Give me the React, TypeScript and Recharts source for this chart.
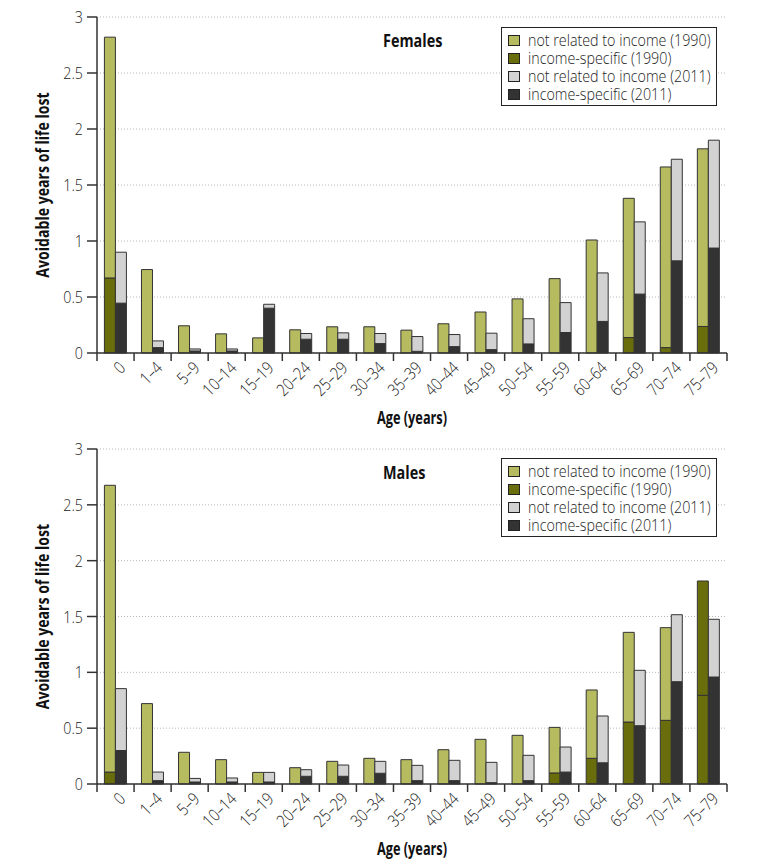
import React from 'react';
import { BarChart, Bar, XAxis, YAxis, CartesianGrid, Cell } from 'recharts';

const ages = ["0", "1–4", "5–9", "10–14", "15–19", "20–24", "25–29", "30–34", "35–39", "40–44", "45–49", "50–54", "55–59", "60–64", "65–69", "70–74", "75–79"];
const yTicks = [0, 0.5, 1, 1.5, 2, 2.5, 3];
const seriesNames = ["not related to income (1990)", "income-specific (1990)", "not related to income (2011)", "income-specific (2011)"];
const seriesColors = ["#b6bb5f", "#6a6d0c", "#d2d2d2", "#333333"];

// Females
const femIncome1990 = [0.67, 0, 0, 0, 0, 0, 0, 0, 0, 0, 0, 0, 0, 0, 0.138, 0.048, 0.237];
const femNotRelated1990 = [2.15, 0.745, 0.243, 0.171, 0.135, 0.207, 0.234, 0.234, 0.204, 0.261, 0.366, 0.483, 0.664, 1.009, 1.243, 1.613, 1.586];
const femIncome2011 = [0.445, 0.048, 0.018, 0.018, 0.4, 0.123, 0.123, 0.084, 0.015, 0.057, 0.03, 0.081, 0.183, 0.282, 0.526, 0.823, 0.937];
const femNotRelated2011 = [0.455, 0.06, 0.018, 0.018, 0.035, 0.051, 0.057, 0.09, 0.132, 0.108, 0.147, 0.225, 0.267, 0.433, 0.645, 0.907, 0.963];

// Males
const maleIncome1990 = [0.107, 0, 0, 0, 0, 0, 0, 0, 0, 0, 0, 0, 0.099, 0.23, 0.555, 0.57, 0.794];
const maleNotRelated1990 = [2.568, 0.72, 0.284, 0.218, 0.104, 0.146, 0.203, 0.23, 0.218, 0.307, 0.4, 0.436, 0.408, 0.612, 0.803, 0.83, 1.024];
const maleIncome2011 = [0.3, 0.03, 0.018, 0.018, 0.018, 0.069, 0.069, 0.096, 0.03, 0.03, 0.012, 0.03, 0.107, 0.19, 0.522, 0.916, 0.958];
const maleNotRelated2011 = [0.554, 0.077, 0.032, 0.036, 0.086, 0.059, 0.101, 0.107, 0.137, 0.182, 0.182, 0.227, 0.224, 0.419, 0.496, 0.6, 0.517];
// In the original, this 1990 upper segment is drawn in the dark olive colour
const maleRecolored1990 = ["75–79"];

const build = (inc90: number[], nr90: number[], inc11: number[], nr11: number[]) =>
  ages.map((age, i) => ({ age, inc1990: inc90[i], nr1990: nr90[i], inc2011: inc11[i], nr2011: nr11[i] }));

const femalesData = build(femIncome1990, femNotRelated1990, femIncome2011, femNotRelated2011);
const malesData = build(maleIncome1990, maleNotRelated1990, maleIncome2011, maleNotRelated2011);

const FONT = "'Open Sans', sans-serif";
const W = 771;
const H = 434;
const LEFT = 97;
const RIGHT = 44;
const AXIS = '#333';
const SX = 0.84; // horizontal squeeze for light text (condensed look)
const FS = 17;

function LegendBox({ top }: any) {
  return (
    <div style={{ position: 'absolute', left: 501, top, border: '1.5px solid #222', background: '#fff', boxSizing: 'border-box', width: 216, height: 79, fontFamily: FONT, fontSize: FS, color: '#222', overflow: 'hidden' }}>
      {seriesNames.map((n, i) => (
        <div key={n} style={{ position: 'absolute', left: 6, top: 3 + i * 18, height: 18, lineHeight: '18px', display: 'flex', alignItems: 'center', whiteSpace: 'nowrap' }}>
          <span style={{ flexShrink: 0, display: 'inline-block', width: 10, height: 9, background: seriesColors[i], border: '1px solid #222', marginRight: 8 }} />
          <span style={{ display: 'inline-block', transform: `scaleX(${SX})`, transformOrigin: 'left center', fontWeight: 300 }}>{n}</span>
        </div>
      ))}
    </div>
  );
}

function Panel({ title, data, marginTop, axisHeight, legendTop, titleTop, recolor }: any) {
  const half = (W - LEFT - RIGHT) / ages.length / 2;
  const renderTick = (props: any) => {
    const { x, y, payload, index } = props;
    const tx = x + 11;
    const ty = y + 16;
    return (
      <g>
        <line x1={x - half} y1={y} x2={x - half} y2={y + 8} stroke={AXIS} strokeWidth={1.5} />
        {index === ages.length - 1 && <line x1={x + half} y1={y} x2={x + half} y2={y + 8} stroke={AXIS} strokeWidth={1.5} />}
        <g transform={`translate(${tx}, ${ty}) rotate(-45) scale(${SX}, 1)`}>
          <text x={0} y={0} textAnchor="end" fontFamily={FONT} fontWeight={300} fontSize={FS} fill="#222">
            {payload.value}
          </text>
        </g>
      </g>
    );
  };
  const yTick = (props: any) => {
    const { x, y, payload } = props;
    return (
      <g transform={`translate(${x}, ${y}) scale(${SX}, 1)`}>
        <text x={0} y={0} dy={6} textAnchor="end" fontFamily={FONT} fontWeight={300} fontSize={FS} fill="#222">
          {payload.value}
        </text>
      </g>
    );
  };
  const xLabel = (p: any) => {
    const vb = p.viewBox;
    const cx = vb.x + vb.width / 2;
    return (
      <g transform={`translate(${cx}, ${vb.y + 71}) scale(0.75, 1)`}>
        <text x={0} y={0} textAnchor="middle" fontFamily={FONT} fontWeight="bold" fontSize={17} fill="#111">
          Age (years)
        </text>
      </g>
    );
  };
  const yLabel = (p: any) => {
    const vb = p.viewBox;
    const cy = vb.y + vb.height / 2;
    return (
      <g transform={`translate(49, ${cy}) rotate(-90) scale(0.83, 1)`}>
        <text x={0} y={0} textAnchor="middle" fontFamily={FONT} fontWeight="bold" fontSize={17} fill="#111">
          Avoidable years of life lost
        </text>
      </g>
    );
  };
  return (
    <div style={{ position: 'relative', width: W, height: H }}>
      <BarChart width={W} height={H} data={data} margin={{ top: marginTop, right: RIGHT, left: 0, bottom: 0 }} barCategoryGap="20%" barGap={0}>
        <CartesianGrid vertical={false} stroke="#b8b8b8" strokeDasharray="1 2" />
        <XAxis dataKey="age" interval={0} tickLine={false} tickSize={0} tickMargin={0} tick={renderTick} height={axisHeight} axisLine={{ stroke: AXIS, strokeWidth: 1.5 }} label={xLabel} />
        <YAxis domain={[0, 3]} ticks={yTicks} width={LEFT} tickSize={10} tickMargin={4} tickLine={{ stroke: AXIS, strokeWidth: 1.5 }} axisLine={{ stroke: AXIS, strokeWidth: 1.5 }} tick={yTick} label={yLabel} />
        <Bar dataKey="inc1990" stackId="a" fill={seriesColors[1]} stroke="#333" strokeWidth={1} isAnimationActive={false} />
        <Bar dataKey="nr1990" stackId="a" fill={seriesColors[0]} stroke="#333" strokeWidth={1} isAnimationActive={false}>
          {data.map((d: any) => (
            <Cell key={d.age} fill={recolor.includes(d.age) ? seriesColors[1] : seriesColors[0]} />
          ))}
        </Bar>
        <Bar dataKey="inc2011" stackId="b" fill={seriesColors[3]} stroke="#333" strokeWidth={1} isAnimationActive={false} />
        <Bar dataKey="nr2011" stackId="b" fill={seriesColors[2]} stroke="#333" strokeWidth={1} isAnimationActive={false} />
      </BarChart>
      <LegendBox top={legendTop} />
      <div style={{ position: 'absolute', left: 383, top: titleTop, fontFamily: FONT, fontWeight: 'bold', fontSize: 18, color: '#111', lineHeight: '20px', transform: 'scaleX(0.8)', transformOrigin: 'left center' }}>
        {title}
      </div>
    </div>
  );
}

export default function App() {
  return (
    <div style={{ position: 'absolute', left: 0, top: 0, width: W, height: 868, background: '#fff' }}>
      <Panel title="Females" data={femalesData} marginTop={17} axisHeight={81} legendTop={27} titleTop={30} recolor={[]} />
      <Panel title="Males" data={malesData} marginTop={15} axisHeight={84} legendTop={24} titleTop={28} recolor={maleRecolored1990} />
    </div>
  );
}
